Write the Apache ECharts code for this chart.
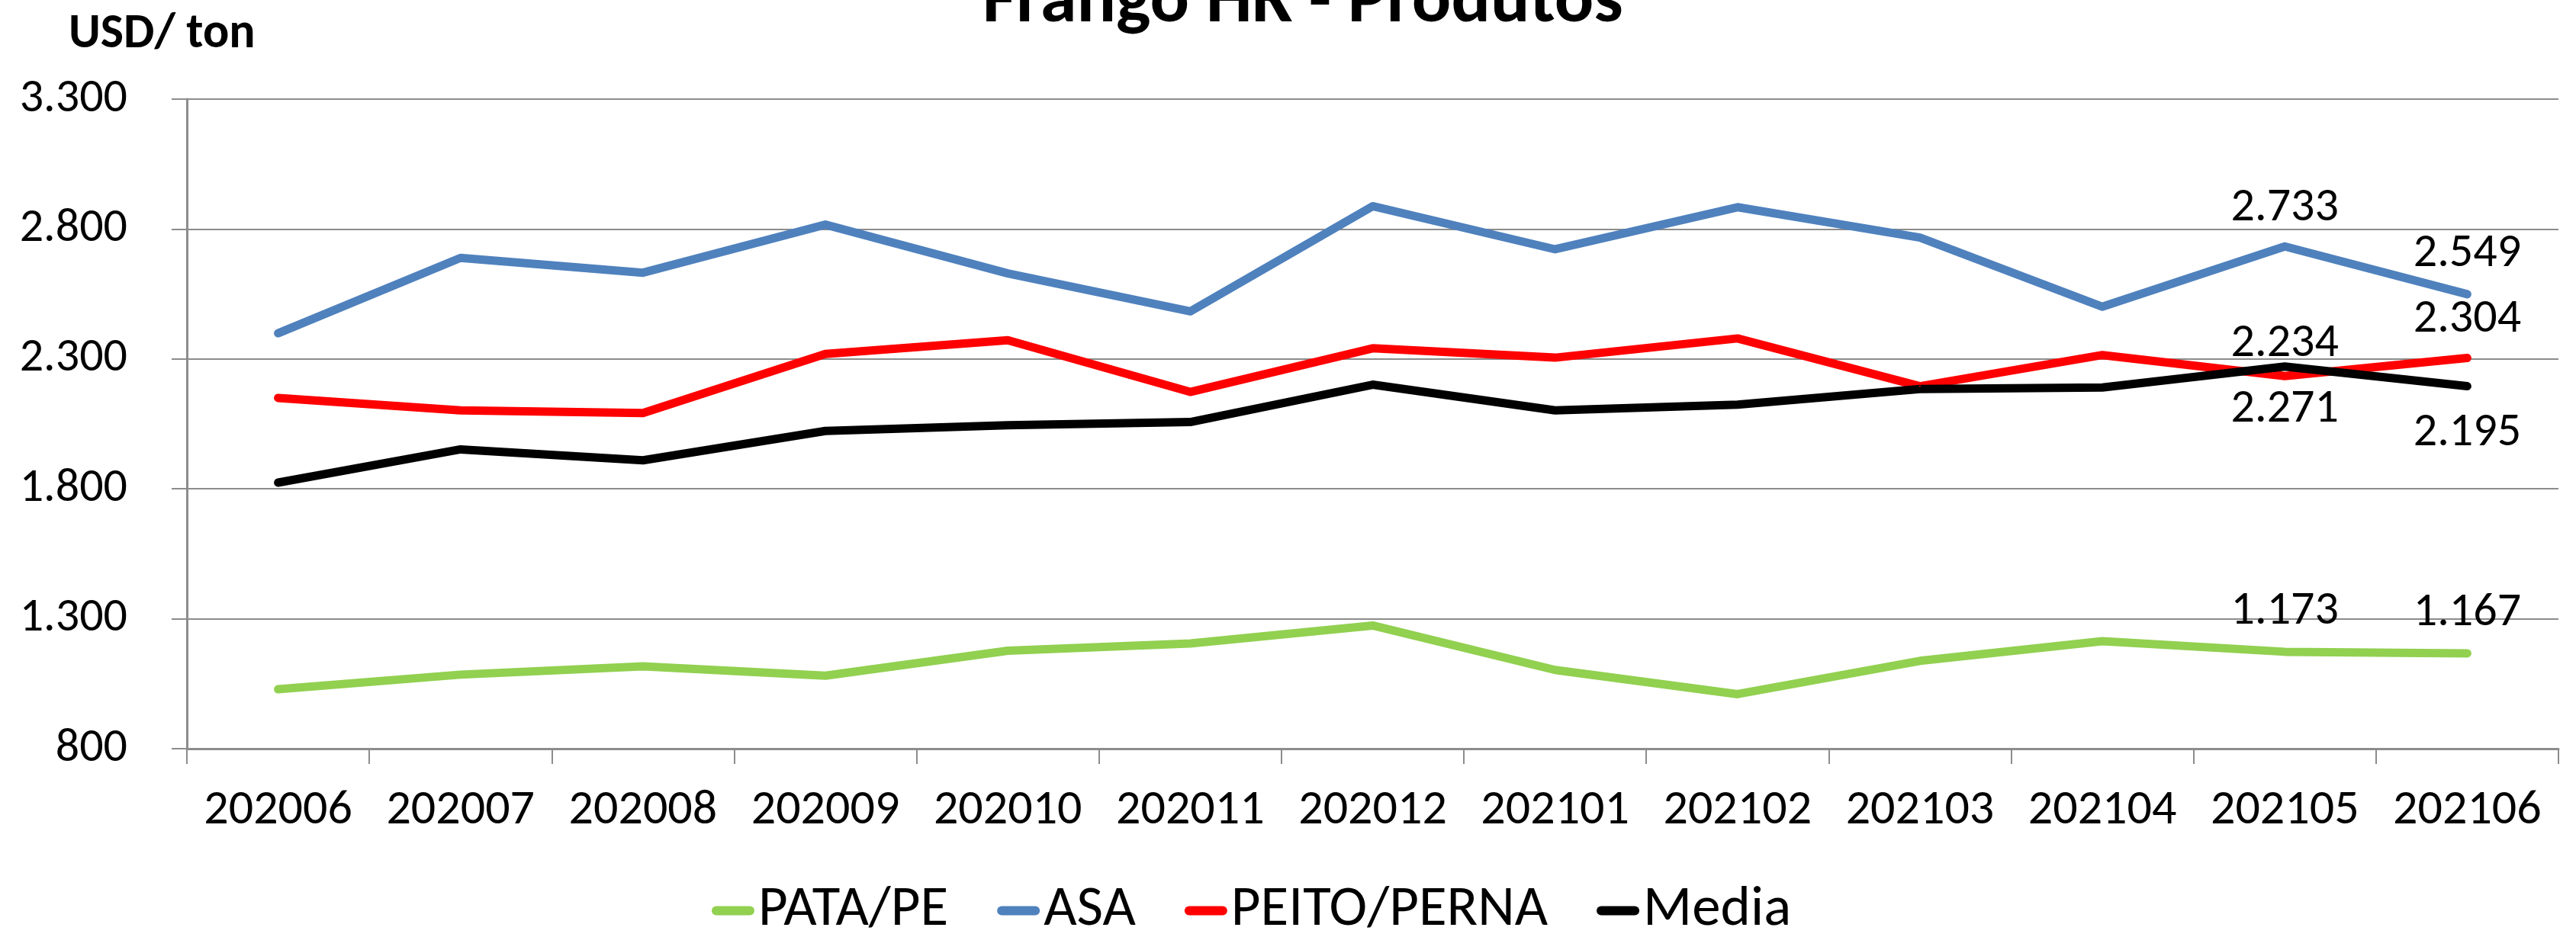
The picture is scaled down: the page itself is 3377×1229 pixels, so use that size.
<!DOCTYPE html>
<html>
<head>
<meta charset="utf-8">
<script src="https://cdn.jsdelivr.net/npm/echarts@6/dist/echarts.min.js"></script>
<style>
html,body{margin:0;padding:0;background:#fff;}
#chart{width:3377px;height:1229px;}
</style>
</head>
<body>
<div id="chart"></div>
<script>
const categories = ['202006','202007','202008','202009','202010','202011','202012','202101','202102','202103','202104','202105','202106'];
const pataPe    = [1029, 1085, 1117, 1081, 1177, 1205, 1274, 1103, 1010, 1138, 1214, 1173, 1167];
const asa       = [2399, 2689, 2632, 2817, 2629, 2483, 2888, 2722, 2884, 2767, 2501, 2733, 2549];
const peitoPerna= [2150, 2102, 2092, 2319, 2372, 2173, 2341, 2305, 2379, 2195, 2315, 2234, 2304];
const media     = [1824, 1952, 1910, 2023, 2045, 2057, 2201, 2102, 2124, 2184, 2190, 2271, 2195];
const yTicks = { min: 800, max: 3300, interval: 500 };
const seriesNames = ['PATA/PE', 'ASA', 'PEITO/PERNA', 'Media'];
const labelledFrom = 11; // last two points carry data labels

const FONT = 'Carlito, Lato, sans-serif';
function fmt(v){ return String(v).replace(/\B(?=(\d{3})+(?!\d))/g, '.'); }

function withLabels(arr, pos, dists){
  return arr.map((v, i) => i >= labelledFrom ? {
    value: v,
    label: { show: true, position: pos, distance: dists[i - labelledFrom], formatter: p => fmt(p.value),
             fontFamily: FONT, fontSize: 62, color: '#000' }
  } : v);
}

const chart = echarts.init(document.getElementById('chart'), null, {renderer: 'canvas'});
const capsule = 'path://M6,0 H50 A6,6 0 0 1 50,12 H6 A6,6 0 0 1 6,0 Z';

function lineSeries(name, data, color){
  return { name, type: 'line', data, symbol: 'circle', symbolSize: 2, showSymbol: true,
    lineStyle: { color, width: 11, cap: 'round', join: 'round' }, itemStyle: { color } };
}

chart.setOption({
  animation: false,
  backgroundColor: '#fff',
  graphic: [
    { type: 'text', left: 1288, top: -44,
      style: { text: 'Frango HK - Produtos', fontFamily: FONT, fontWeight: 'bold', fontSize: 96, fill: '#000' } },
    { type: 'text', left: 90, top: 14,
      style: { text: 'USD/ ton', fontFamily: FONT, fontWeight: 'bold', fontSize: 64, fill: '#000' } }
  ],
  legend: {
    data: seriesNames.map(n => ({ name: n, icon: capsule })),
    left: 928, top: 1152,
    itemWidth: 56, itemHeight: 12, itemGap: 64,
    textStyle: { fontFamily: FONT, fontSize: 75, color: '#000' }
  },
  grid: { left: 245, right: 23, top: 130, bottom: 247, containLabel: false },
  xAxis: {
    type: 'category', data: categories, boundaryGap: true,
    axisLine: { show: true, lineStyle: { color: '#8c8c8c', width: 3 } },
    axisTick: { show: true, length: 20, lineStyle: { color: '#8c8c8c', width: 2 } },
    axisLabel: { fontFamily: FONT, fontSize: 64, color: '#000', margin: 50, interval: 0 },
    splitLine: { show: false }
  },
  yAxis: {
    type: 'value', min: yTicks.min, max: yTicks.max, interval: yTicks.interval,
    axisLine: { show: true, lineStyle: { color: '#8c8c8c', width: 3 } },
    axisTick: { show: true, length: 20, lineStyle: { color: '#8c8c8c', width: 2 } },
    axisLabel: { fontFamily: FONT, fontSize: 62, color: '#000', margin: 78, formatter: v => fmt(v) },
    splitLine: { show: true, lineStyle: { color: '#8c8c8c', width: 2 } }
  },
  series: [
    lineSeries('PATA/PE', withLabels(pataPe, 'top', [20, 20]), '#92D050'),
    lineSeries('ASA', withLabels(asa, 'top', [18, 20]), '#4F81BD'),
    lineSeries('PEITO/PERNA', withLabels(peitoPerna, 'top', [10, 18]), '#FF0000'),
    lineSeries('Media', withLabels(media, 'bottom', [25, 30]), '#000000')
  ]
});
</script>
</body>
</html>
